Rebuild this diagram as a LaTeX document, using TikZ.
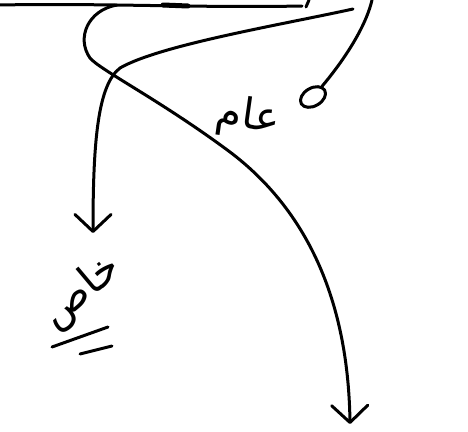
\documentclass[tikz,border=0pt]{standalone}
\usepackage{fontspec}
\newfontfamily\arabicfont[Script=Arabic]{DejaVu Sans}
\TeXXeTstate=1
\usetikzlibrary{arrows.meta,shapes.geometric}

\begin{document}
\begin{tikzpicture}[x=1pt,y=-1pt,
  pen/.style={line width=3pt,line cap=round,line join=round},
  barb/.style={-{Straight Barb[length=17pt,width=36pt,line cap=round,line join=round]}},
  lbl/.style={font=\arabicfont\fontsize{42}{42}\selectfont,inner sep=0pt}]
\useasboundingbox (0,0) rectangle (468,431);
% top line
\coordinate (topL) at (0,5);
\coordinate (topR) at (302,6);
\draw[pen] (topL) .. controls (100,3) and (200,8) .. (topR);
\draw[pen] (topR) ++(4,1) -- ++(3,-7);
\draw[line width=5pt,line cap=round] (163,5) -- (188,6);
% start points
\coordinate (loopS) at (117,5);
\coordinate (arcS) at (353,9);
\coordinate (tailS) at (372,0);
\coordinate (endR) at (350,424);
\coordinate (endL) at (93,233);
\node[pen,draw,ellipse,rotate=30,minimum width=27pt,minimum height=18pt,inner sep=0pt] (dot) at (313,97) {};
% labels
\node[lbl,rotate=-8] (aam) at (248,118) {\beginR عام\endR};
\node[lbl,rotate=40] (khas) at (82,292) {\beginR خاص\endR};
% connectors
\draw[pen,barb] (loopS) .. controls (88,10) and (76,38) .. (90,58)
   .. controls (100,70) and (160,100) .. (230,152)
   .. controls (300,205) and (348,290) .. (endR);
\draw[pen,barb] (arcS) .. controls (280,25) and (160,45) .. (120,68)
   .. controls (98,85) and (93,140) .. (endL);
\draw[pen] (tailS) .. controls (365,30) and (340,65) .. (dot);
% underline
\draw[pen] (52,347) -- (108,327);
\draw[pen] (80,354) -- (112,346);
\end{tikzpicture}
\end{document}
